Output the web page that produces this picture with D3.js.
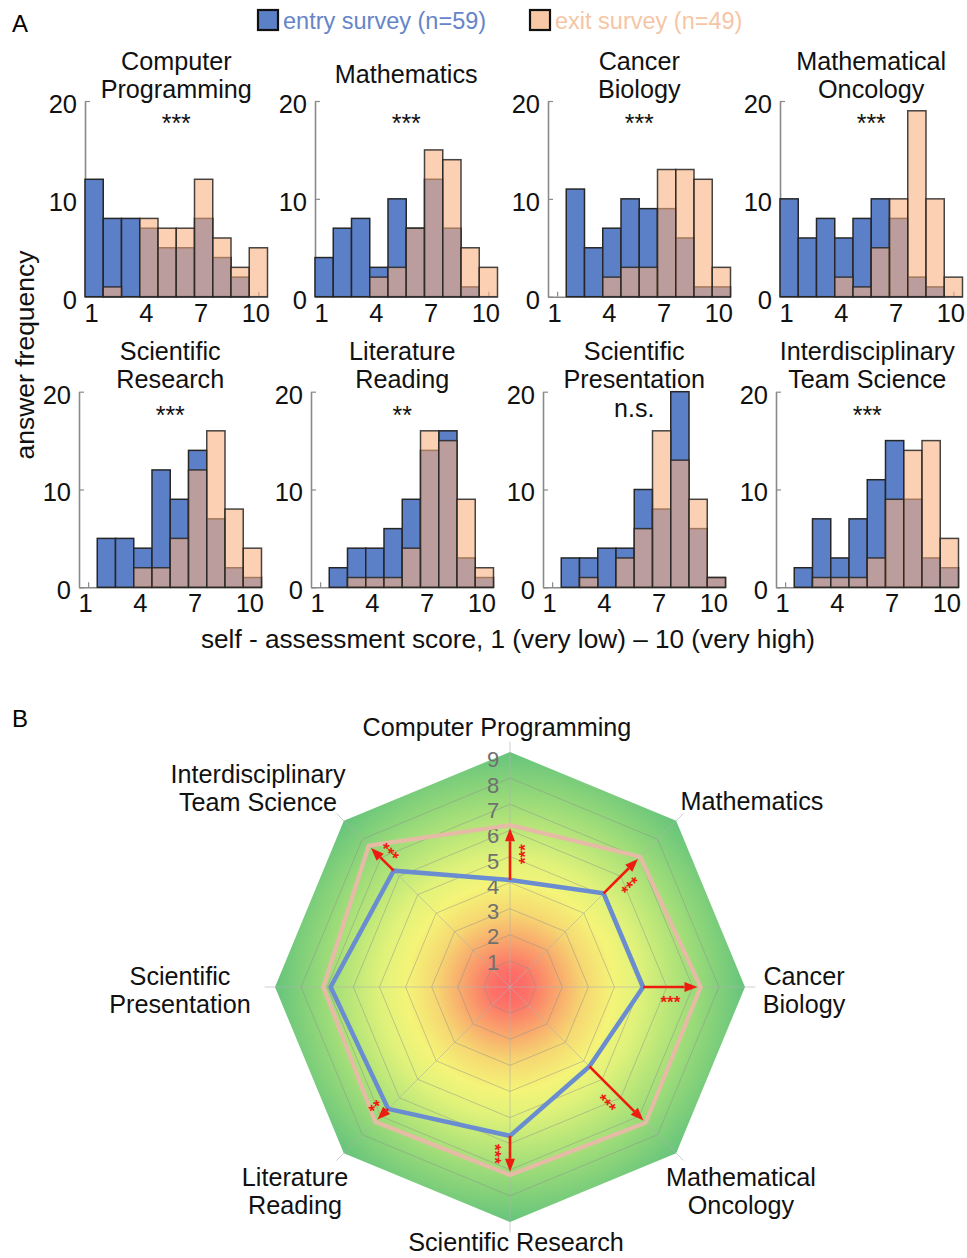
<!DOCTYPE html>
<html><head><meta charset="utf-8">
<script src="https://cdn.jsdelivr.net/npm/d3@7"></script>
<style>
body{margin:0;background:#fff}
svg{display:block}
text{font-family:"Liberation Sans",Arial,Helvetica,sans-serif}
</style>
</head><body>
<svg id="chart" width="967" height="1258"></svg>
<script>
// ---------------- DATA ----------------
const scores = [1,2,3,4,5,6,7,8,9,10];
const categories = ["Computer Programming","Mathematics","Cancer Biology","Mathematical Oncology",
  "Scientific Research","Literature Reading","Scientific Presentation","Interdisciplinary Team Science"];
const histTitleLines = [["Computer","Programming"],["Mathematics"],["Cancer","Biology"],["Mathematical","Oncology"],
  ["Scientific","Research"],["Literature","Reading"],["Scientific","Presentation"],["Interdisciplinary","Team Science"]];
const radarLabelLines = [["Computer Programming"],["Mathematics"],["Cancer","Biology"],["Mathematical","Oncology"],
  ["Scientific Research"],["Literature","Reading"],["Scientific","Presentation"],["Interdisciplinary","Team Science"]];

// answer counts per score 1..10
const entryComputerProgramming = [12,8,8,7,5,5,8,4,2,0];
const exitComputerProgramming  = [0,1,0,8,7,7,12,6,3,5];
const entryMathematics         = [4,7,8,3,10,7,12,7,1,0];
const exitMathematics          = [0,0,0,2,3,7,15,14,5,3];
const entryCancerBiology       = [0,11,5,7,10,9,9,6,1,1];
const exitCancerBiology        = [0,0,0,2,3,3,13,13,12,3];
const entryMathOncology        = [10,6,8,6,8,10,8,2,1,0];
const exitMathOncology         = [0,0,0,2,1,5,10,19,10,2];
const entryScientificResearch  = [0,5,5,4,12,9,14,7,2,1];
const exitScientificResearch   = [0,0,0,2,2,5,12,16,8,4];
const entryLiteratureReading   = [0,2,4,4,6,9,14,16,3,1];
const exitLiteratureReading    = [0,0,1,1,1,4,16,15,9,2];
const entrySciPresentation     = [0,3,3,4,4,10,8,20,6,1];
const exitSciPresentation      = [0,0,1,0,3,6,16,13,9,1];
const entryTeamScience         = [0,2,7,3,7,11,15,9,3,2];
const exitTeamScience          = [0,0,1,1,1,3,9,14,15,5];

const significance = ["***","***","***","***","***","**","n.s.","***"];

// radar: average self-assessment score
const entryMeans = [4.1,5.07,5.1,4.3,5.7,6.6,6.87,6.3];
const exitMeans  = [6.2,7.05,7.3,7.35,7.2,7.3,7.15,7.65];

const histXTicks = [1,4,7,10];
const histYTicks = [0,10,20];
const radarTicks = [1,2,3,4,5,6,7,8,9];
const legendLabels = ["entry survey (n=59)","exit survey (n=49)"];

const entryCounts = [entryComputerProgramming,entryMathematics,entryCancerBiology,entryMathOncology,
  entryScientificResearch,entryLiteratureReading,entrySciPresentation,entryTeamScience];
const exitCounts = [exitComputerProgramming,exitMathematics,exitCancerBiology,exitMathOncology,
  exitScientificResearch,exitLiteratureReading,exitSciPresentation,exitTeamScience];

// ---------------- STYLE / LAYOUT ----------------
const BLUE = "#5b80c8", PEACH = "rgb(250,177,127)", PEACH_OP = 0.6, OUTLINE = "#262626";
const svg = d3.select("#chart");

const panelLefts = [85,315,548,780,79,311,543,776];
const panelW = 182.5;
const rowY0 = [296.7, 587.3], rowY20 = [101, 391.7];
const titleMid = [84,374];      // midpoint between two-line baselines
const titleSingleBase = [83,373];
const sigBase = [132,424];
const FS = 25.2, LH = 28.5;

// multi-line text: lines centred around baseline midpoint "yMid"
function multiText(sel, x, yMid, lines, size, lh){
  const y0 = yMid - (lines.length-1)*lh/2;
  lines.forEach((s,k)=>{
    sel.append("text").attr("x",x).attr("y",y0+k*lh).attr("text-anchor","middle")
      .attr("font-size",size).attr("fill","#111").text(s);
  });
}

// panel letters
svg.append("text").attr("x",12).attr("y",32).attr("font-size",24).text("A");
svg.append("text").attr("x",12).attr("y",727).attr("font-size",24).text("B");

// legend
const legX = [258,530], legTextColor = ["#6585c8","#f6c5a5"], legFill = [BLUE,"#f9c9a6"];
legendLabels.forEach((lab,i)=>{
  svg.append("rect").attr("x",legX[i]).attr("y",10).attr("width",20).attr("height",20)
    .attr("fill",legFill[i]).attr("stroke","#111").attr("stroke-width",2.2);
  svg.append("text").attr("x",legX[i]+25).attr("y",29).attr("font-size",23.5)
    .attr("fill",legTextColor[i]).text(lab);
});

// histograms
categories.forEach((cat,i)=>{
  const row = Math.floor(i/4);
  const L = panelLefts[i];
  const x = d3.scaleLinear().domain([0.5,10.5]).range([L, L+panelW]);
  const y = d3.scaleLinear().domain([0,20]).range([rowY0[row], rowY20[row]]);
  const g = svg.append("g");
  const bw = x(1.5)-x(0.5);
  const entry = scores.map((s,j)=>({s, n:entryCounts[i][j]})).filter(d=>d.n>0);
  const exit = scores.map((s,j)=>({s, n:exitCounts[i][j]})).filter(d=>d.n>0);

  // axes
  const xa = g.append("g").attr("transform",`translate(0,${y(0)})`)
    .call(d3.axisBottom(x).tickValues(histXTicks).tickSize(-5).tickSizeOuter(0).tickPadding(7).tickFormat(d3.format("d")));
  const ya = g.append("g").attr("transform",`translate(${L},0)`)
    .call(d3.axisLeft(y).tickValues(histYTicks).tickSize(-5).tickSizeOuter(0).tickPadding(8));
  [xa,ya].forEach(a=>{
    a.select(".domain").attr("stroke","#8a8a8a").attr("stroke-width",1.6);
    a.selectAll(".tick line").attr("stroke","#8a8a8a").attr("stroke-width",1.2);
    a.selectAll("text").attr("font-size",25.5).attr("fill","#111")
      .attr("font-family",'"Liberation Sans",Arial,sans-serif');
  });
  xa.selectAll("text").attr("dx",-3);
  ya.selectAll("text").attr("dy","0.45em");

  g.selectAll("rect.entry").data(entry).join("rect").attr("class","entry")
    .attr("x",d=>x(d.s-0.5)).attr("width",bw)
    .attr("y",d=>y(d.n)).attr("height",d=>y(0)-y(d.n))
    .attr("fill",BLUE).attr("stroke",OUTLINE).attr("stroke-width",1.5);
  g.selectAll("rect.exit").data(exit).join("rect").attr("class","exit")
    .attr("x",d=>x(d.s-0.5)).attr("width",bw)
    .attr("y",d=>y(d.n)).attr("height",d=>y(0)-y(d.n))
    .attr("fill",PEACH).attr("fill-opacity",PEACH_OP).attr("stroke",OUTLINE).attr("stroke-opacity",0.85).attr("stroke-width",1.5);

  // titles
  const cx = L + panelW/2;
  const lines = histTitleLines[i];
  multiText(g, cx, lines.length===2 ? titleMid[row] : titleSingleBase[row], lines, FS, LH);
  const sig = significance[i];
  g.append("text").attr("x",cx).attr("y", sig==="n.s." ? sigBase[row]-7 : sigBase[row])
    .attr("text-anchor","middle").attr("font-size",25).attr("fill","#111").text(sig);
});

// shared axis titles
svg.append("text").attr("transform","translate(34,355) rotate(-90)").attr("text-anchor","middle")
  .attr("font-size",26.5).attr("fill","#111").text("answer frequency");
svg.append("text").attr("x",508).attr("y",648).attr("text-anchor","middle")
  .attr("font-size",26.2).attr("fill","#111").text("self - assessment score, 1 (very low) \u2013 10 (very high)");

// ---------------- RADAR ----------------
const RC = {x:510, y:987};
const r = d3.scaleLinear().domain([0,9]).range([0,235]);
const ang = d3.scaleLinear().domain([0,8]).range([-Math.PI/2, 1.5*Math.PI]);
const pt = (i,v)=>[RC.x + r(v)*Math.cos(ang(i)), RC.y + r(v)*Math.sin(ang(i))];

const defs = svg.append("defs");
const grad = defs.append("radialGradient").attr("id","rg").attr("gradientUnits","userSpaceOnUse")
  .attr("cx",RC.x).attr("cy",RC.y).attr("r",r(9));
[[0,"#ff6464"],[0.08,"#fd7268"],[0.2,"#f9a66c"],[0.32,"#f6d872"],[0.44,"#f4f478"],
 [0.55,"#e0f27a"],[0.66,"#bfe879"],[0.78,"#9edc79"],[0.89,"#82d07a"],[1,"#66c47c"]]
 .forEach(([o,c])=>grad.append("stop").attr("offset",o).attr("stop-color",c));

const rg = svg.append("g");
const idx = d3.range(categories.length);
const ringPath = v => d3.line()(idx.map(i=>pt(i,v))) + "Z";
rg.append("path").attr("d",ringPath(9)).attr("fill","url(#rg)");
radarTicks.slice(0,-1).forEach(v=>{
  rg.append("path").attr("d",ringPath(v)).attr("fill","none").attr("stroke","#8c8c8c")
    .attr("stroke-opacity",0.45).attr("stroke-width",1);
});
idx.forEach(i=>{
  const [x1,y1] = pt(i,0), [x2,y2] = pt(i,9.4);
  rg.append("line").attr("x1",x1).attr("y1",y1).attr("x2",x2).attr("y2",y2)
    .attr("stroke","#b0b0b0").attr("stroke-opacity",0.6).attr("stroke-width",1);
});
radarTicks.forEach(v=>{
  rg.append("text").attr("x",RC.x-17).attr("y",RC.y - r(v)*0.968).attr("dy","0.36em")
    .attr("text-anchor","middle").attr("font-size",22).attr("fill","#707070").text(v);
});

// series polygons
rg.append("path").attr("d",d3.line()(idx.map(i=>pt(i,exitMeans[i])))+"Z")
  .attr("fill","none").attr("stroke","#e6bba6").attr("stroke-width",4.2).attr("stroke-linejoin","miter");
rg.append("path").attr("d",d3.line()(idx.map(i=>pt(i,entryMeans[i])))+"Z")
  .attr("fill","none").attr("stroke","#6a8cd0").attr("stroke-width",4.5).attr("stroke-linejoin","miter");

// arrows for significant changes
const RED = "#ee1b10";
idx.forEach(i=>{
  if (significance[i]==="n.s.") return;
  const a = ang(i), dx = Math.cos(a), dy = Math.sin(a);
  const [x1,y1] = pt(i,entryMeans[i]);
  const [x2,y2] = pt(i,exitMeans[i]-0.12);
  const hl = 13, hw = 5;
  const bx = x2 - dx*hl, by = y2 - dy*hl;
  rg.append("line").attr("x1",x1).attr("y1",y1).attr("x2",bx).attr("y2",by)
    .attr("stroke",RED).attr("stroke-width",2.6);
  rg.append("path").attr("d",`M${x2},${y2}L${bx - dy*hw},${by + dx*hw}L${bx + dy*hw},${by - dx*hw}Z`)
    .attr("fill",RED);
  const mx = (x1+x2)/2 - dy*10, my = (y1+y2)/2 + dx*10;
  rg.append("text").attr("transform",`translate(${mx},${my}) rotate(${a*180/Math.PI})`)
    .attr("text-anchor","middle").attr("dy","0.62em").attr("font-size",17).attr("font-weight","bold")
    .attr("fill",RED).text(significance[i]);
});

// radar labels (baseline midpoint offsets from centre)
const labelDX = [-13, 242, 294, 231, 6, -215, -330, -252];
const labelDY = [-251, -177, 12, 213, 264, 213, 12, -190];
idx.forEach(i=>{
  multiText(svg, RC.x+labelDX[i], RC.y+labelDY[i], radarLabelLines[i], FS, LH);
});
</script>
</body></html>
